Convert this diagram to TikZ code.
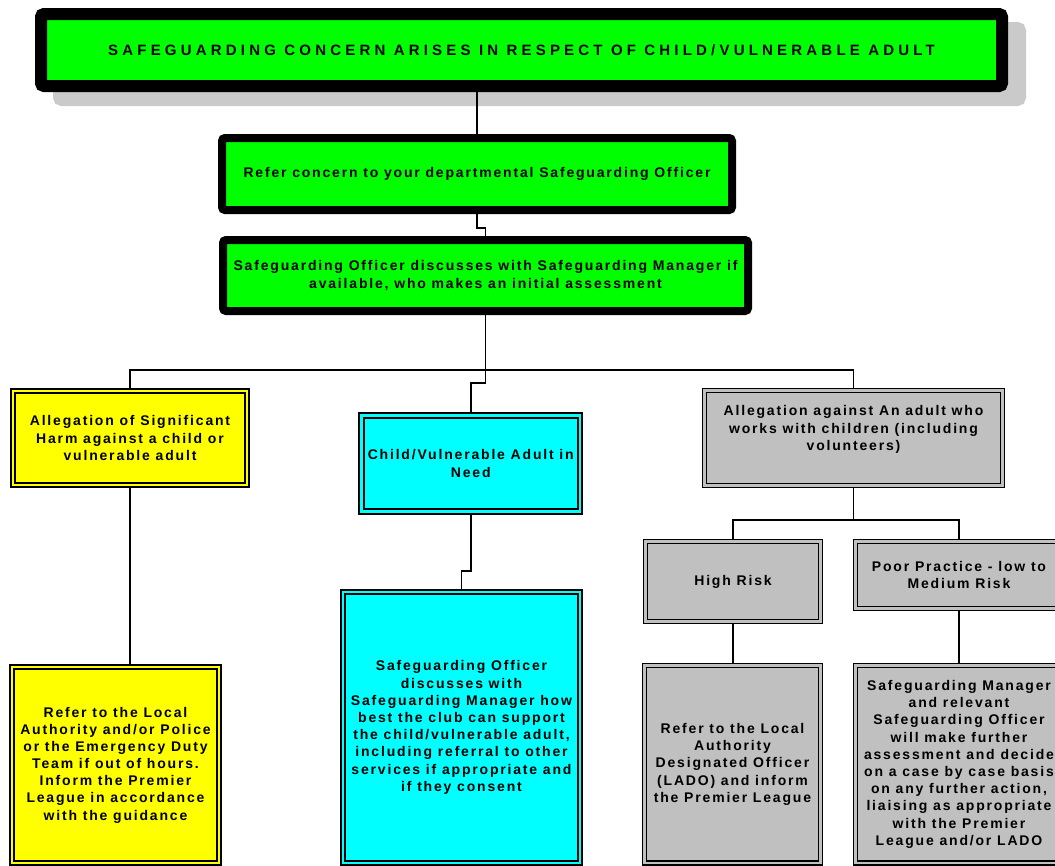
\documentclass[tikz,border=0pt]{standalone}
\usepackage{fontspec}
\usepackage{tikz}
\usetikzlibrary{shadows, calc}
\setmainfont{Liberation Sans}
\newfontfamily\boxfont{Liberation Sans}[LetterSpace=13]
\newfontfamily\headfont{Liberation Sans}[LetterSpace=28]
\definecolor{sgGreen}{HTML}{00FF00}
\definecolor{sgYellow}{HTML}{FFFF00}
\definecolor{sgCyan}{HTML}{00FFFF}
\definecolor{sgGrey}{HTML}{C0C0C0}
\definecolor{sgShadow}{HTML}{CACACA}

\begin{document}
\begin{tikzpicture}[x=1pt, y=-1pt,
    txt/.style={font=\boxfont\bfseries\fontsize{14}{17.2}\selectfont, align=center},
    greenbox/.style={txt, draw=black, line width=8pt, fill=sgGreen, rounded corners=3pt, inner sep=0pt},
    dblbox/.style={txt, draw=black, line width=1.5pt, double=#1, double distance=2.5pt, fill=#1, inner sep=0pt, outer sep=2.75pt},
    link/.style={draw=black, line width=1.6pt}]
    \path[fill=white, use as bounding box] (0,0) rectangle (1055,865);

    % --- top of the chain : green boxes ---
    \node[greenbox, line width=12pt, minimum width=961pt, minimum height=72pt,
          font=\headfont\bfseries\fontsize{15}{17}\selectfont,
          drop shadow={shadow xshift=18pt, shadow yshift=-14pt, fill=sgShadow, draw=sgShadow, line width=12pt, opacity=1}]
        (head) at (521.5, 50) {SAFEGUARDING CONCERN ARISES IN RESPECT OF CHILD/VULNERABLE ADULT};
    \node[greenbox, minimum width=510pt, minimum height=72pt] (refer) at (477, 174)
        {Refer concern to your departmental Safeguarding Officer};
    \node[greenbox, minimum width=525pt, minimum height=71pt] (assess) at (485.5, 275.5)
        {Safeguarding Officer discusses with Safeguarding Manager if\\available, who makes an initial assessment};

    % --- left branch : significant harm ---
    \node[dblbox=sgYellow, minimum width=234pt, minimum height=94pt] (harm) at (130, 438)
        {Allegation of Significant\\Harm against a child or\\vulnerable adult};
    \node[dblbox=sgYellow, minimum width=207pt, minimum height=196pt] (police) at (115.5, 765)
        {Refer to the Local\\Authority and/or Police\\or the Emergency Duty\\Team if out of hours.\\Inform the Premier\\League in accordance\\with the guidance};

    % --- middle branch : child in need ---
    \node[dblbox=sgCyan, line width=1.8pt, minimum width=218.5pt, minimum height=96pt] (need) at (470.75, 463.5)
        {Child/Vulnerable Adult in\\Need};
    \node[dblbox=sgCyan, minimum width=237pt, minimum height=271pt] (support) at (461.5, 727.5)
        {Safeguarding Officer\\discusses with\\Safeguarding Manager how\\best the club can support\\the child/vulnerable adult,\\including referral to other\\services if appropriate and\\if they consent};

    % --- right branch : allegation against an adult ---
    \node[dblbox=sgGrey, minimum width=298pt, minimum height=95pt,
          label={[txt, yshift=8.5pt]center:Allegation against An adult who\\works with children (including\\volunteers)}]
        (adult) at (853.5, 438) {};
    \node[dblbox=sgGrey, minimum width=175pt, minimum height=80pt] (high) at (733, 581.5) {High Risk};
    \node[dblbox=sgGrey, minimum width=207pt, minimum height=67pt] (poor) at (959, 575)
        {Poor Practice - low to\\Medium Risk};
    \node[dblbox=sgGrey, minimum width=176pt, minimum height=197.5pt] (lado) at (732.5, 764.25)
        {Refer to the Local\\Authority\\Designated Officer\\(LADO) and inform\\the Premier League};
    \node[dblbox=sgGrey, minimum width=207pt, minimum height=197.5pt] (further) at (959, 764.25)
        {Safeguarding Manager\\and relevant\\Safeguarding Officer\\will make further\\assessment and decide\\on a case by case basis\\on any further action,\\liaising as appropriate\\with the Premier\\League and/or LADO};

    % --- connectors ---
    \draw[link] (refer.north) -- (refer.north |- head.south);
    \draw[link] (refer.south) -- ++(0,14) -| (assess.north);
    \draw[link] (assess.south) -- ++(0,55) coordinate (bus);
    \draw[link] (harm.north) |- (bus) -| (adult.north);
    \draw[link] (bus) -- ++(0,13) -| (need.north);
    \draw[link] (harm.south) -- (harm.south |- police.north);
    \draw[link] (need.south) -- ++(0,57) -| (support.north);
    \draw[link] (adult.south) -- ++(0,32) coordinate (split);
    \draw[link] (high.north) |- (split) -| (poor.north);
    \draw[link] (high.south) -- (high.south |- lado.north);
    \draw[link] (poor.south) -- (further.north);
\end{tikzpicture}
\end{document}
